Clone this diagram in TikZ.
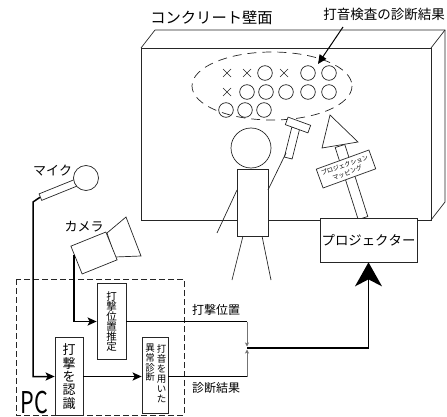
\documentclass[tikz,border=0pt]{standalone}
\usepackage{fontspec}
\setmainfont{Noto Sans CJK JP}
\usetikzlibrary{arrows.meta,calc}
\newcommand{\fsz}[1]{\fontsize{#1}{#1}\selectfont}
% set every character of a label on a full-width (1em) grid
\makeatletter
\newcommand{\fw}[1]{\fw@step#1\@nil}
\def\fw@step#1{\ifx#1\@nil\else\makebox[1em]{#1}\expandafter\fw@step\fi}
\makeatother
\begin{document}
\begin{tikzpicture}[x=1pt,y=-1pt,
  outline/.style={line width=0.7pt, draw=black!85},
  wire/.style={line width=1.5pt, draw=black},
  feed/.style={line width=0.8pt, draw=black!55},
  proc/.style={outline, fill=white, inner sep=0pt, minimum width=28pt},
  vtext/.style={align=center, inner sep=0pt},
  smallhead/.style={-{Stealth[length=9pt,width=8pt,inset=2pt]}},
  tinyhead/.style={-{Stealth[length=4pt,width=4pt,inset=1pt]}, shorten >=1.5pt},
  bighead/.style={-{Stealth[length=24pt,width=27pt,inset=7pt]}},
  resultmark/.style={line width=0.7pt, draw=black!85},
]
\useasboundingbox (0,0) rectangle (447,417);

% concrete wall (box in perspective)
\draw[outline] (141,48) -- (155,30) -- (445,30) -- (445,202) -- (431,220);
\draw[outline] (431,48) -- (445,30);
\draw[outline] (141,48) rectangle (431,220);

\node[font=\fsz{15.3}, inner sep=0pt] (walllabel) at (211.5,17.5) {\fw{コンクリート壁面}};
\node[font=\fsz{13.5}, inner sep=0pt] (resultlabel) at (384,14.5) {\fw{打音検査の診断結果}};

% results projected on the wall
\draw[outline, dash pattern=on 9pt off 6pt] (272,86) ellipse [x radius=80, y radius=34];
\foreach \x in {227,247,284} \draw[resultmark] (\x-4,73-4) -- (\x+4,73+4) (\x-4,73+4) -- (\x+4,73-4);
\foreach \x in {265,308,329} \draw[resultmark] (\x,73) circle [radius=7.3];
\draw[resultmark] (227-4,92-4) -- (227+4,92+4) (227-4,92+4) -- (227+4,92-4);
\foreach \x in {247,266,286,308,329} \draw[resultmark] (\x,92) circle [radius=7.3];
\foreach \x in {226,245,264} \draw[resultmark] (\x,110) circle [radius=7.3];

\coordinate (arrowstart) at (343,27);
\coordinate (ellipsetip) at (318,64);
\draw[line width=1pt, -{Triangle[length=9pt,width=8pt]}] (arrowstart) -- (ellipsetip);

% person with hammer
\draw[outline] (237,190) -- (217,233);
\draw[outline] (243,236) -- (232,280);
\draw[outline] (262,236) -- (271,280);
\draw[outline, fill=white] (237,169) rectangle (268,236);
\node[outline, circle, minimum size=40pt, inner sep=0pt] (head) at (251,148) {};
\node[outline, fill=white, minimum width=8pt, minimum height=31pt, inner sep=0pt, rotate=-14] (handle) at (292,143) {};
\node[outline, fill=white, minimum width=24pt, minimum height=8pt, inner sep=0pt, rotate=-20] (hammerhead) at (298,125) {};
\draw[outline] (268,190) -- (286,153);

% projection mapping sign
\draw[outline, fill=white] (335.2,147.5) -- (344.8,144.5) -- (367.8,216.5) -- (358.2,219.5) -- cycle;
\draw[outline, fill=white] (330,115) -- (358,142) -- (322,148) -- cycle;
\node[outline, fill=white, minimum width=56pt, minimum height=20pt, inner sep=0pt,
      rotate=20, align=center, font=\fontsize{6.2}{8}\selectfont] (sign) at (346,169)
      {\fw{プロジェクション}\\\fw{マッピング}};

\node[outline, fill=white, minimum width=97pt, minimum height=44pt, inner sep=0pt,
      font=\fsz{13.4}] (projector) at (368.5,240) {\fw{プロジェクター}};

% microphone
\node[outline, fill=white, minimum width=38pt, minimum height=7pt, inner sep=0pt, rotate=22] (michandle) at (58,190) {};
\node[outline, fill=white, circle, minimum size=25pt, inner sep=0pt] (mic) at (86,178) {};
\node[font=\fsz{13}] (miclabel) at (52.5,171) {\fw{マイク}};

% camera
\draw[outline, fill=white] (107,233) -- (126,217) -- (141,256) -- (115,257) -- cycle;
\node[outline, fill=white, minimum width=37.7pt, minimum height=30pt, inner sep=0pt, rotate=22] (camera) at (94,253) {};
\node[font=\fsz{13}] (camlabel) at (84,226.5) {\fw{カメラ}};

% PC
\draw[outline, dash pattern=on 6pt off 3pt] (16,279) rectangle (184,415);
\node[font=\fsz{30}, xscale=0.72, inner sep=0pt] (pclabel) at (34.5,403) {PC};

\node[proc, minimum width=29pt, minimum height=76pt] (locate) at (111.5,321.5) {};
\node[vtext, font=\fontsize{10.5}{10}\selectfont] at (locate) {打\\撃\\位\\置\\推\\定};

\node[proc, minimum width=28pt, minimum height=78pt] (recog) at (69,376.5) {};
\node[vtext, font=\fontsize{13}{13.4}\selectfont] at (recog) {打\\撃\\を\\認\\識};

\node[proc, minimum width=26pt, minimum height=76pt] (diag) at (155,375.5) {};
\node[vtext, anchor=north, font=\fontsize{9.5}{10}\selectfont] at (161.5,344) {打\\音\\を\\用\\い\\た};
\node[vtext, anchor=north, font=\fontsize{9.5}{8.6}\selectfont] at (150,344) {異\\常\\診\\断};

% signal paths
\draw[wire, smallhead] (michandle.west) -- (33,202) |- (recog.west);
\draw[wire, smallhead] ($(camera.north west)!0.32!(camera.south west)$) |- (locate.west);
\draw[wire, smallhead] (recog.east) -- (recog.east -| diag.west);

\coordinate (posturn) at (247,321.5);
\coordinate (diagturn) at (247,376.5);
\coordinate (join) at (247,348);
\draw[wire] (locate.east) -- (posturn);
\draw[wire] (diag.east |- diagturn) -- (diagturn);
\draw[feed, tinyhead] (posturn) -- (join);
\draw[feed, tinyhead] (diagturn) -- (join);
\draw[wire, bighead] (join) -| (projector.south);

\node[font=\fsz{12}] (poslabel) at (216,309.5) {\fw{打撃位置}};
\node[font=\fsz{12}] (diaglabel) at (216,388) {\fw{診断結果}};
\end{tikzpicture}
\end{document}
